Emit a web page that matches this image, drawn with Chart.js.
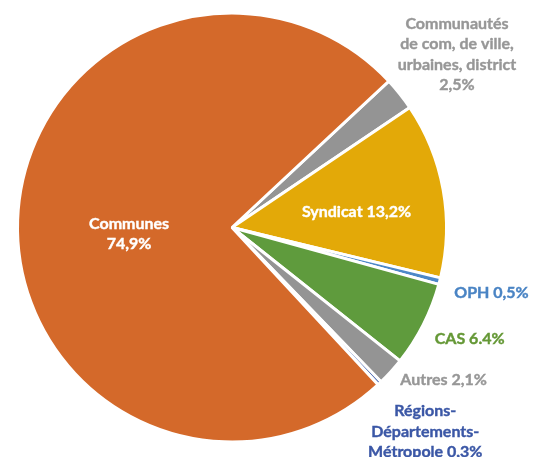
<!DOCTYPE html>
<html lang="fr">
<head>
  <meta charset="UTF-8" />
  <title>Répartition</title>
  <script src="https://cdn.jsdelivr.net/npm/chart.js"></script>
  <style>
    html, body { margin: 0; padding: 0; background: #fff; }
    .chart-container { position: relative; width: 539px; height: 457px; }
  </style>
</head>
<body>
  <div class="chart-container">
    <canvas id="pieChart"></canvas>
  </div>

  <script>
    // clockwise, starting at the top-right gray slice
    const labels = [
      ['Communautés', 'de com, de ville,', 'urbaines, district', '2,5%'],
      ['Syndicat 13,2%'],
      ['OPH 0,5%'],
      ['CAS 6.4%'],
      ['Autres 2,1%'],
      ['Régions-', 'Départements-', 'Métropole 0,3%'],
      ['Communes', '74,9%']
    ];
    const values = [2.5, 13.2, 0.5, 6.4, 2.1, 0.3, 74.9];

    const sliceColors = ['#949494', '#e3a908', '#4d88c8', '#5f9b3d', '#949494', '#3d5ba9', '#d4692a'];
    const textColors = ['#979797', '#ffffff', '#4a84c4', '#659836', '#979797', '#3b57a6', '#ffffff'];
    // where each label sits: fraction of radius along the slice's mid-angle
    const labelPlace = [
      { f: 1.34, align: 'center', dy: 6 },
      { f: 0.59, align: 'center', dy: 7 },
      { f: 1.07, align: 'left', dy: 8 },
      { f: 1.06, align: 'left', dy: 8 },
      { f: 1.06, align: 'left', dy: 0 },
      { f: 1.31, align: 'center', dy: 0 },
      { f: 0.48, align: 'center', dy: 10 }
    ];

    const pieLabels = {
      id: 'pieLabels',
      afterDatasetsDraw(chart) {
        const c = chart.ctx;
        const arcs = chart.getDatasetMeta(0).data;
        c.save();
        c.font = 'bold 16px Lato, sans-serif';
        c.textBaseline = 'middle';
        arcs.forEach((arc, i) => {
          const p = labelPlace[i];
          const mid = (arc.startAngle + arc.endAngle) / 2;
          const x = arc.x + Math.cos(mid) * arc.outerRadius * p.f;
          const y = arc.y + Math.sin(mid) * arc.outerRadius * p.f + p.dy;
          const lines = labels[i];
          const lh = 20.5;
          const top = y - (lines.length - 1) * lh / 2;
          c.fillStyle = textColors[i];
          c.strokeStyle = textColors[i];
          c.lineWidth = 0.4;
          c.textAlign = p.align;
          lines.forEach((t, k) => {
            c.fillText(t, x, top + k * lh);
            c.strokeText(t, x, top + k * lh);
          });
        });
        c.restore();
      }
    };

    new Chart(document.getElementById('pieChart'), {
      type: 'pie',
      data: {
        labels: labels.map(l => l.join(' ')),
        datasets: [{
          data: values,
          backgroundColor: sliceColors,
          borderColor: '#ffffff',
          borderWidth: 3
        }]
      },
      options: {
        responsive: true,
        maintainAspectRatio: false,
        animation: false,
        rotation: 47,
        layout: { padding: { left: 16, right: 91, top: 11, bottom: 13 } },
        plugins: {
          legend: { display: false },
          tooltip: { enabled: false }
        }
      },
      plugins: [pieLabels]
    });
  </script>
</body>
</html>
